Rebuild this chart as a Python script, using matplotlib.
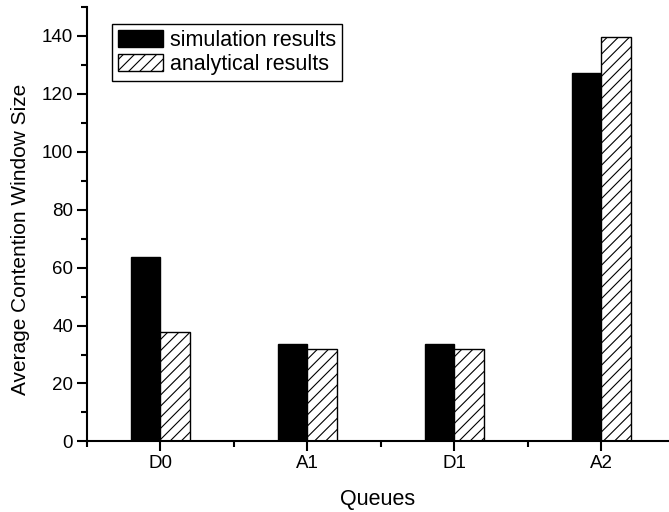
import numpy as np
import matplotlib.pyplot as plt
from matplotlib.ticker import MultipleLocator, FixedLocator

plt.rcParams['font.family'] = ['Liberation Sans', 'DejaVu Sans']
plt.rcParams['hatch.linewidth'] = 0.8

queues = ["D0", "A1", "D1", "A2"]
simulation = [63.8, 33.7, 33.7, 127.3]
analytical = [37.8, 32.0, 32.0, 139.5]

x = np.arange(len(queues))
width = 0.2

fig = plt.figure(figsize=(6.69, 5.12), dpi=100)
ax = fig.add_axes([0.130, 0.1379, 0.870, 0.8484])

ax.bar(x - width / 2, simulation, width, color="black", edgecolor="black",
       linewidth=1, label="simulation results")
ax.bar(x + width / 2, analytical, width, color="white", edgecolor="black",
       hatch="///", linewidth=1, label="analytical results")

ax.set_xlim(-0.5, 3.46)
ax.set_ylim(0, 150)
ax.set_xticks(x)
ax.set_xticklabels(queues)
ax.xaxis.set_minor_locator(FixedLocator([-0.5, 0.5, 1.5, 2.5]))
ax.yaxis.set_major_locator(MultipleLocator(20))
ax.yaxis.set_minor_locator(MultipleLocator(10))

ax.spines["top"].set_visible(False)
ax.spines["right"].set_visible(False)
for s in ("left", "bottom"):
    ax.spines[s].set_linewidth(1.5)

ax.tick_params(which="major", direction="out", length=7.5, width=1.5,
               labelsize=13.5, pad=2.5)
ax.tick_params(which="minor", direction="out", length=4, width=1.5)

ax.set_xlabel("Queues", fontsize=15.5, labelpad=12)
ax.set_ylabel("Average Contention Window Size", fontsize=15)
ax.yaxis.set_label_coords(-0.098, 0.465)

leg = ax.legend(loc="upper left", bbox_to_anchor=(112 / 669, 1 - 24 / 512),
                bbox_transform=fig.transFigure, borderaxespad=0,
                fontsize=15.5, fancybox=False, framealpha=1, edgecolor="black",
                handlelength=2.1, handleheight=0.85, handletextpad=0.3,
                labelspacing=0.12, borderpad=0.28)
leg.get_frame().set_linewidth(1)

fig.savefig("out.png", dpi=100)
plt.close(fig)
